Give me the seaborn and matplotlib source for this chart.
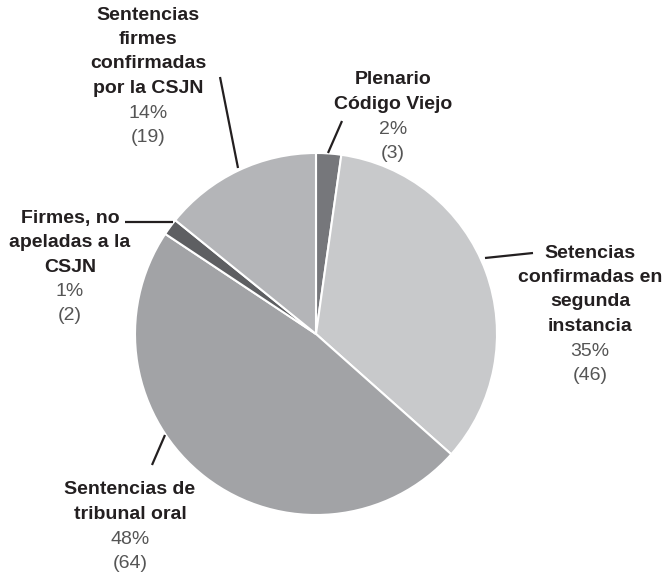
import matplotlib
matplotlib.use("Agg")
import matplotlib.pyplot as plt
import seaborn as sns

# data
categorias = [
    "Plenario\nCódigo Viejo",
    "Setencias\nconfirmadas en\nsegunda\ninstancia",
    "Sentencias de\ntribunal oral",
    "Firmes, no\napeladas a la\nCSJN",
    "Sentencias\nfirmes\nconfirmadas\npor la CSJN",
]
cantidades = [3, 46, 64, 2, 19]
porcentajes = [2, 35, 48, 1, 14]
colores = ["#76777b", "#c8c9cb", "#a2a3a6", "#5e5f62", "#b4b5b8"]

# label layout (pixel coords, y from top): text centre x, first line y
label_pos = [(393, 80), (590, 253), (130, 490), (70, 218), (148, 15)]
leaders = [
    ((342, 121), (328, 153)),
    ((533, 253), (485, 258)),
    ((152, 465), (165, 435)),
    ((125, 222), (173, 222)),
    ((220, 77), (238, 168)),
]

sns.set_theme(style="white")
plt.rcParams["font.family"] = ["Liberation Sans", "DejaVu Sans"]

W, H = 663, 573
fig = plt.figure(figsize=(W / 100, H / 100), dpi=100)
ax = fig.add_axes([0, 0, 1, 1])
ax.axis("off")

ax.pie(cantidades, colors=colores, startangle=90, counterclock=False,
       center=(316, H - 334), radius=181,
       wedgeprops=dict(edgecolor="white", linewidth=1.5))
ax.set_xlim(0, W)
ax.set_ylim(0, H)
ax.set_aspect("equal")

step = 24.5
for cat, n, pct, (x, y0) in zip(categorias, cantidades, porcentajes, label_pos):
    lines = cat.split("\n")
    for i, ln in enumerate(lines):
        ax.text(x, H - (y0 + i * step), ln, ha="center", va="center",
                fontsize=14, fontweight="bold", color="#231f20")
    k = len(lines)
    ax.text(x, H - (y0 + k * step), f"{pct}%", ha="center", va="center",
            fontsize=14, color="#555555")
    ax.text(x, H - (y0 + (k + 1) * step), f"({n})", ha="center", va="center",
            fontsize=14, color="#555555")

for (x1, y1), (x2, y2) in leaders:
    ax.plot([x1, x2], [H - y1, H - y2], color="#231f20", lw=1.6,
            solid_capstyle="butt")

fig.savefig("out.png", dpi=100)
